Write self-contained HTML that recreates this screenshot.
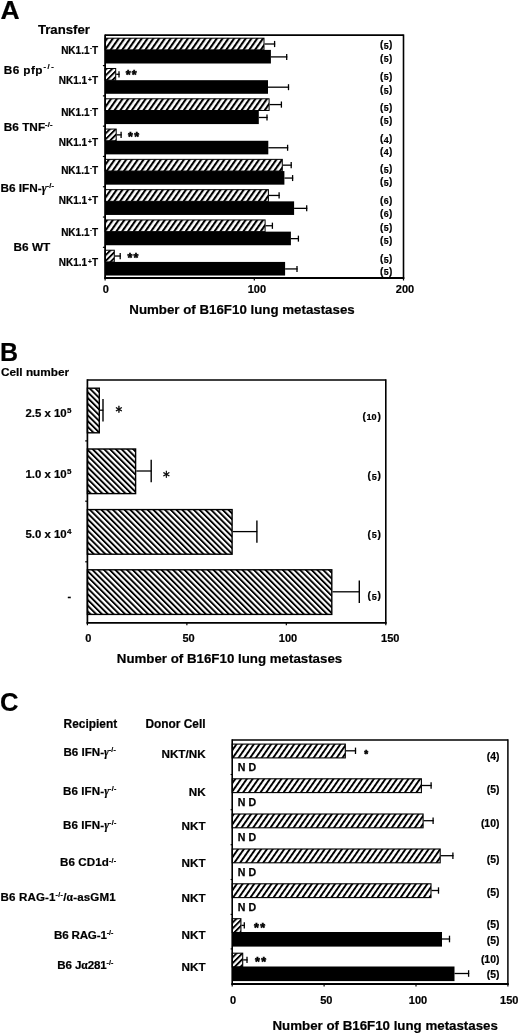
<!DOCTYPE html>
<html><head><meta charset="utf-8"><title>Figure</title>
<style>html,body{margin:0;padding:0;background:#fff;}svg{display:block;filter:blur(0.35px);}
text{font-family:"Liberation Sans", Arial, sans-serif;font-weight:bold;fill:#000;}</style></head>
<body><svg width="520" height="1034" viewBox="0 0 520 1034">
<rect width="520" height="1034" fill="#fff"/>
<defs>
<pattern id="hA" patternUnits="userSpaceOnUse" width="4.73" height="20" patternTransform="rotate(35)">
<rect x="0" y="0" width="2.1" height="20" fill="#000"/></pattern>
<pattern id="hC" patternUnits="userSpaceOnUse" width="4.73" height="20" patternTransform="rotate(35)">
<rect x="0" y="0" width="1.95" height="20" fill="#000"/></pattern>
<pattern id="hS" patternUnits="userSpaceOnUse" width="4.1" height="20" patternTransform="rotate(45)">
<rect x="0" y="0" width="1.9" height="20" fill="#000"/></pattern>
<pattern id="hB" patternUnits="userSpaceOnUse" width="4.08" height="20" patternTransform="rotate(-45)">
<rect x="0" y="0" width="1.9" height="20" fill="#000"/></pattern>
</defs>
<text x="0.3" y="18.8" font-size="25" text-anchor="start" transform="translate(0.3,0) scale(1.06,1)" stroke="#000" stroke-width="0.2">A</text>
<text x="37.9" y="34.1" font-size="13.2" text-anchor="start"  stroke="#000" stroke-width="0.2">Transfer</text>
<text x="3.8" y="74.0" font-size="11.8" text-anchor="start"  stroke="#000" stroke-width="0.2"><tspan letter-spacing="0.4">B6 pfp</tspan><tspan font-size="7.5" dy="-4.7" letter-spacing="1.6" dx="0.5">-/-</tspan></text>
<text x="3.8" y="130.5" font-size="11.8" text-anchor="start"  stroke="#000" stroke-width="0.2">B6 TNF<tspan font-size="7.5" dy="-3.7" letter-spacing="0.1">-/-</tspan></text>
<text x="0.4" y="192.4" font-size="11.8" text-anchor="start"  stroke="#000" stroke-width="0.2">B6 IFN-<tspan style="font-family:'Liberation Serif';font-style:italic;font-weight:bold">&#947;</tspan><tspan font-size="7.5" dy="-4.0" letter-spacing="0.2">-/-</tspan></text>
<text x="13.6" y="250.7" font-size="11.8" text-anchor="start"  stroke="#000" stroke-width="0.2">B6 WT</text>
<text x="98.1" y="54.1" font-size="10" text-anchor="end"  stroke="#000" stroke-width="0.2">NK1.1<tspan font-size="6" dy="-4.0" dx="0.5">-</tspan><tspan dy="4.0">T</tspan></text>
<text x="98.1" y="84.1" font-size="10" text-anchor="end"  stroke="#000" stroke-width="0.2">NK1.1<tspan font-size="6.5" dy="-1.8" dx="0.8">+</tspan><tspan dy="1.8" dx="0.3">T</tspan></text>
<text x="98.1" y="115.9" font-size="10" text-anchor="end"  stroke="#000" stroke-width="0.2">NK1.1<tspan font-size="6" dy="-4.0" dx="0.5">-</tspan><tspan dy="4.0">T</tspan></text>
<text x="98.1" y="146" font-size="10" text-anchor="end"  stroke="#000" stroke-width="0.2">NK1.1<tspan font-size="6.5" dy="-1.8" dx="0.8">+</tspan><tspan dy="1.8" dx="0.3">T</tspan></text>
<text x="98.1" y="173.6" font-size="10" text-anchor="end"  stroke="#000" stroke-width="0.2">NK1.1<tspan font-size="6" dy="-4.0" dx="0.5">-</tspan><tspan dy="4.0">T</tspan></text>
<text x="98.1" y="203.8" font-size="10" text-anchor="end"  stroke="#000" stroke-width="0.2">NK1.1<tspan font-size="6.5" dy="-1.8" dx="0.8">+</tspan><tspan dy="1.8" dx="0.3">T</tspan></text>
<text x="98.1" y="235.6" font-size="10" text-anchor="end"  stroke="#000" stroke-width="0.2">NK1.1<tspan font-size="6" dy="-4.0" dx="0.5">-</tspan><tspan dy="4.0">T</tspan></text>
<text x="98.1" y="266" font-size="10" text-anchor="end"  stroke="#000" stroke-width="0.2">NK1.1<tspan font-size="6.5" dy="-1.8" dx="0.8">+</tspan><tspan dy="1.8" dx="0.3">T</tspan></text>
<rect x="105.10" y="49.90" width="165.80" height="13.60" fill="#000"/>
<rect x="105.10" y="38.20" width="158.90" height="11.70" fill="url(#hA)" stroke="#000" stroke-width="1.0"/>
<line x1="264.50" y1="44.00" x2="275.20" y2="44.00" stroke="#000" stroke-width="1.3"/>
<line x1="274.60" y1="40.90" x2="274.60" y2="47.10" stroke="#000" stroke-width="1.3"/>
<line x1="270.90" y1="56.90" x2="287.30" y2="56.90" stroke="#000" stroke-width="1.3"/>
<line x1="286.70" y1="53.90" x2="286.70" y2="59.90" stroke="#000" stroke-width="1.3"/>
<rect x="105.10" y="80.19" width="162.90" height="13.60" fill="#000"/>
<rect x="105.10" y="68.49" width="10.60" height="11.70" fill="url(#hS)" stroke="#000" stroke-width="1.0"/>
<line x1="116.20" y1="74.29" x2="119.60" y2="74.29" stroke="#000" stroke-width="1.3"/>
<line x1="119.00" y1="71.19" x2="119.00" y2="77.39" stroke="#000" stroke-width="1.3"/>
<line x1="268.00" y1="87.19" x2="289.10" y2="87.19" stroke="#000" stroke-width="1.3"/>
<line x1="288.50" y1="84.19" x2="288.50" y2="90.19" stroke="#000" stroke-width="1.3"/>
<rect x="105.10" y="110.48" width="153.70" height="13.60" fill="#000"/>
<rect x="105.10" y="98.78" width="164.00" height="11.70" fill="url(#hA)" stroke="#000" stroke-width="1.0"/>
<line x1="269.60" y1="104.58" x2="282.00" y2="104.58" stroke="#000" stroke-width="1.3"/>
<line x1="281.40" y1="101.48" x2="281.40" y2="107.68" stroke="#000" stroke-width="1.3"/>
<line x1="258.80" y1="117.48" x2="267.60" y2="117.48" stroke="#000" stroke-width="1.3"/>
<line x1="267.00" y1="114.48" x2="267.00" y2="120.48" stroke="#000" stroke-width="1.3"/>
<rect x="105.10" y="140.77" width="163.20" height="13.60" fill="#000"/>
<rect x="105.10" y="129.07" width="11.10" height="11.70" fill="url(#hS)" stroke="#000" stroke-width="1.0"/>
<line x1="116.70" y1="134.87" x2="121.70" y2="134.87" stroke="#000" stroke-width="1.3"/>
<line x1="121.10" y1="131.77" x2="121.10" y2="137.97" stroke="#000" stroke-width="1.3"/>
<line x1="268.30" y1="147.77" x2="288.20" y2="147.77" stroke="#000" stroke-width="1.3"/>
<line x1="287.60" y1="144.77" x2="287.60" y2="150.77" stroke="#000" stroke-width="1.3"/>
<rect x="105.10" y="171.06" width="179.30" height="13.60" fill="#000"/>
<rect x="105.10" y="159.36" width="177.20" height="11.70" fill="url(#hA)" stroke="#000" stroke-width="1.0"/>
<line x1="282.80" y1="165.16" x2="291.80" y2="165.16" stroke="#000" stroke-width="1.3"/>
<line x1="291.20" y1="162.06" x2="291.20" y2="168.26" stroke="#000" stroke-width="1.3"/>
<line x1="284.40" y1="178.06" x2="293.20" y2="178.06" stroke="#000" stroke-width="1.3"/>
<line x1="292.60" y1="175.06" x2="292.60" y2="181.06" stroke="#000" stroke-width="1.3"/>
<rect x="105.10" y="201.35" width="189.00" height="13.60" fill="#000"/>
<rect x="105.10" y="189.65" width="163.30" height="11.70" fill="url(#hA)" stroke="#000" stroke-width="1.0"/>
<line x1="268.90" y1="195.45" x2="279.70" y2="195.45" stroke="#000" stroke-width="1.3"/>
<line x1="279.10" y1="192.35" x2="279.10" y2="198.55" stroke="#000" stroke-width="1.3"/>
<line x1="294.10" y1="208.35" x2="307.30" y2="208.35" stroke="#000" stroke-width="1.3"/>
<line x1="306.70" y1="205.35" x2="306.70" y2="211.35" stroke="#000" stroke-width="1.3"/>
<rect x="105.10" y="231.64" width="185.80" height="13.60" fill="#000"/>
<rect x="105.10" y="219.94" width="160.00" height="11.70" fill="url(#hA)" stroke="#000" stroke-width="1.0"/>
<line x1="265.60" y1="225.74" x2="273.00" y2="225.74" stroke="#000" stroke-width="1.3"/>
<line x1="272.40" y1="222.64" x2="272.40" y2="228.84" stroke="#000" stroke-width="1.3"/>
<line x1="290.90" y1="238.64" x2="299.00" y2="238.64" stroke="#000" stroke-width="1.3"/>
<line x1="298.40" y1="235.64" x2="298.40" y2="241.64" stroke="#000" stroke-width="1.3"/>
<rect x="105.10" y="261.93" width="180.00" height="13.60" fill="#000"/>
<rect x="105.10" y="250.23" width="9.20" height="11.70" fill="url(#hS)" stroke="#000" stroke-width="1.0"/>
<line x1="114.80" y1="256.03" x2="120.80" y2="256.03" stroke="#000" stroke-width="1.3"/>
<line x1="120.20" y1="252.93" x2="120.20" y2="259.13" stroke="#000" stroke-width="1.3"/>
<line x1="285.10" y1="268.93" x2="297.60" y2="268.93" stroke="#000" stroke-width="1.3"/>
<line x1="297.00" y1="265.93" x2="297.00" y2="271.93" stroke="#000" stroke-width="1.3"/>
<line x1="105.10" y1="35.20" x2="403.50" y2="35.20" stroke="#000" stroke-width="1.7"/>
<line x1="403.50" y1="34.40" x2="403.50" y2="278.80" stroke="#000" stroke-width="1.6"/>
<line x1="105.10" y1="34.40" x2="105.10" y2="278.80" stroke="#000" stroke-width="1.8"/>
<line x1="104.30" y1="278.00" x2="404.30" y2="278.00" stroke="#000" stroke-width="2.0"/>
<line x1="102.90" y1="65.59" x2="105.10" y2="65.59" stroke="#000" stroke-width="1.2"/>
<line x1="102.90" y1="95.88" x2="105.10" y2="95.88" stroke="#000" stroke-width="1.2"/>
<line x1="102.90" y1="126.17" x2="105.10" y2="126.17" stroke="#000" stroke-width="1.2"/>
<line x1="102.90" y1="156.46" x2="105.10" y2="156.46" stroke="#000" stroke-width="1.2"/>
<line x1="102.90" y1="186.75" x2="105.10" y2="186.75" stroke="#000" stroke-width="1.2"/>
<line x1="102.90" y1="217.04" x2="105.10" y2="217.04" stroke="#000" stroke-width="1.2"/>
<line x1="102.90" y1="247.33" x2="105.10" y2="247.33" stroke="#000" stroke-width="1.2"/>
<line x1="105.10" y1="278.00" x2="105.10" y2="280.50" stroke="#000" stroke-width="1.2"/>
<line x1="254.30" y1="278.00" x2="254.30" y2="280.50" stroke="#000" stroke-width="1.2"/>
<line x1="403.50" y1="278.00" x2="403.50" y2="280.50" stroke="#000" stroke-width="1.2"/>
<text x="386.1" y="48.300000000000004" font-size="10" text-anchor="middle"  stroke="#000" stroke-width="0.2">(<tspan font-size="8.9" dx="0.35" dy="0.5">5</tspan><tspan dx="0.35" dy="-0.5">)</tspan></text>
<text x="386.1" y="61.5" font-size="10" text-anchor="middle"  stroke="#000" stroke-width="0.2">(<tspan font-size="8.9" dx="0.35" dy="0.5">5</tspan><tspan dx="0.35" dy="-0.5">)</tspan></text>
<text x="386.1" y="79.8" font-size="10" text-anchor="middle"  stroke="#000" stroke-width="0.2">(<tspan font-size="8.9" dx="0.35" dy="0.5">5</tspan><tspan dx="0.35" dy="-0.5">)</tspan></text>
<text x="386.1" y="93.0" font-size="10" text-anchor="middle"  stroke="#000" stroke-width="0.2">(<tspan font-size="8.9" dx="0.35" dy="0.5">5</tspan><tspan dx="0.35" dy="-0.5">)</tspan></text>
<text x="386.1" y="110.6" font-size="10" text-anchor="middle"  stroke="#000" stroke-width="0.2">(<tspan font-size="8.9" dx="0.35" dy="0.5">5</tspan><tspan dx="0.35" dy="-0.5">)</tspan></text>
<text x="386.1" y="123.8" font-size="10" text-anchor="middle"  stroke="#000" stroke-width="0.2">(<tspan font-size="8.9" dx="0.35" dy="0.5">5</tspan><tspan dx="0.35" dy="-0.5">)</tspan></text>
<text x="386.1" y="142.0" font-size="10" text-anchor="middle"  stroke="#000" stroke-width="0.2">(<tspan font-size="8.9" dx="0.35" dy="0.5">4</tspan><tspan dx="0.35" dy="-0.5">)</tspan></text>
<text x="386.1" y="154.6" font-size="10" text-anchor="middle"  stroke="#000" stroke-width="0.2">(<tspan font-size="8.9" dx="0.35" dy="0.5">4</tspan><tspan dx="0.35" dy="-0.5">)</tspan></text>
<text x="386.1" y="172.1" font-size="10" text-anchor="middle"  stroke="#000" stroke-width="0.2">(<tspan font-size="8.9" dx="0.35" dy="0.5">5</tspan><tspan dx="0.35" dy="-0.5">)</tspan></text>
<text x="386.1" y="185.29999999999998" font-size="10" text-anchor="middle"  stroke="#000" stroke-width="0.2">(<tspan font-size="8.9" dx="0.35" dy="0.5">5</tspan><tspan dx="0.35" dy="-0.5">)</tspan></text>
<text x="386.1" y="203.5" font-size="10" text-anchor="middle"  stroke="#000" stroke-width="0.2">(<tspan font-size="8.9" dx="0.35" dy="0.5">6</tspan><tspan dx="0.35" dy="-0.5">)</tspan></text>
<text x="386.1" y="216.7" font-size="10" text-anchor="middle"  stroke="#000" stroke-width="0.2">(<tspan font-size="8.9" dx="0.35" dy="0.5">6</tspan><tspan dx="0.35" dy="-0.5">)</tspan></text>
<text x="386.1" y="230.6" font-size="10" text-anchor="middle"  stroke="#000" stroke-width="0.2">(<tspan font-size="8.9" dx="0.35" dy="0.5">5</tspan><tspan dx="0.35" dy="-0.5">)</tspan></text>
<text x="386.1" y="243.79999999999998" font-size="10" text-anchor="middle"  stroke="#000" stroke-width="0.2">(<tspan font-size="8.9" dx="0.35" dy="0.5">5</tspan><tspan dx="0.35" dy="-0.5">)</tspan></text>
<text x="386.1" y="262.0" font-size="10" text-anchor="middle"  stroke="#000" stroke-width="0.2">(<tspan font-size="8.9" dx="0.35" dy="0.5">5</tspan><tspan dx="0.35" dy="-0.5">)</tspan></text>
<text x="386.1" y="274.6" font-size="10" text-anchor="middle"  stroke="#000" stroke-width="0.2">(<tspan font-size="8.9" dx="0.35" dy="0.5">5</tspan><tspan dx="0.35" dy="-0.5">)</tspan></text>
<text x="125.7" y="78.8" font-size="12.5" text-anchor="start" letter-spacing="1.3" stroke="#000" stroke-width="0.6">**</text>
<text x="128.0" y="140.70000000000002" font-size="12.5" text-anchor="start" letter-spacing="1.3" stroke="#000" stroke-width="0.6">**</text>
<text x="127.4" y="261.9" font-size="12.5" text-anchor="start" letter-spacing="1.3" stroke="#000" stroke-width="0.6">**</text>
<text x="105.8" y="293.3" font-size="11" text-anchor="middle"  stroke="#000" stroke-width="0.2">0</text>
<text x="256.9" y="293.3" font-size="11" text-anchor="middle"  stroke="#000" stroke-width="0.2">100</text>
<text x="405.0" y="293.3" font-size="11" text-anchor="middle"  stroke="#000" stroke-width="0.2">200</text>
<text x="242.0" y="313.9" font-size="13.3" text-anchor="middle"  stroke="#000" stroke-width="0.2">Number of B16F10 lung metastases</text>
<text x="0.0" y="360.8" font-size="25" text-anchor="start"  stroke="#000" stroke-width="0.2">B</text>
<text x="1.0" y="375.8" font-size="11.8" text-anchor="start"  stroke="#000" stroke-width="0.2">Cell number</text>
<rect x="87.40" y="388.20" width="11.90" height="44.60" fill="url(#hB)" stroke="#000" stroke-width="1.4"/>
<line x1="100.00" y1="410.20" x2="103.30" y2="410.20" stroke="#000" stroke-width="1.3"/>
<line x1="103.00" y1="399.00" x2="103.00" y2="421.40" stroke="#000" stroke-width="1.4"/>
<rect x="87.40" y="449.00" width="48.20" height="44.60" fill="url(#hB)" stroke="#000" stroke-width="1.4"/>
<line x1="136.30" y1="471.00" x2="151.50" y2="471.00" stroke="#000" stroke-width="1.3"/>
<line x1="151.20" y1="459.80" x2="151.20" y2="482.20" stroke="#000" stroke-width="1.4"/>
<rect x="87.40" y="509.60" width="144.70" height="44.60" fill="url(#hB)" stroke="#000" stroke-width="1.4"/>
<line x1="232.80" y1="531.60" x2="257.20" y2="531.60" stroke="#000" stroke-width="1.3"/>
<line x1="256.90" y1="520.40" x2="256.90" y2="542.80" stroke="#000" stroke-width="1.4"/>
<rect x="87.40" y="569.80" width="244.40" height="44.60" fill="url(#hB)" stroke="#000" stroke-width="1.4"/>
<line x1="332.50" y1="591.80" x2="359.60" y2="591.80" stroke="#000" stroke-width="1.3"/>
<line x1="359.30" y1="580.60" x2="359.30" y2="603.00" stroke="#000" stroke-width="1.4"/>
<line x1="87.40" y1="380.00" x2="385.80" y2="380.00" stroke="#000" stroke-width="1.7"/>
<line x1="385.80" y1="379.20" x2="385.80" y2="623.60" stroke="#000" stroke-width="1.6"/>
<line x1="87.40" y1="379.20" x2="87.40" y2="623.60" stroke="#000" stroke-width="1.7"/>
<line x1="86.60" y1="622.80" x2="386.60" y2="622.80" stroke="#000" stroke-width="1.8"/>
<line x1="85.20" y1="440.90" x2="87.40" y2="440.90" stroke="#000" stroke-width="1.2"/>
<line x1="85.20" y1="501.20" x2="87.40" y2="501.20" stroke="#000" stroke-width="1.2"/>
<line x1="85.20" y1="561.80" x2="87.40" y2="561.80" stroke="#000" stroke-width="1.2"/>
<line x1="87.40" y1="622.80" x2="87.40" y2="625.30" stroke="#000" stroke-width="1.2"/>
<line x1="186.87" y1="622.80" x2="186.87" y2="625.30" stroke="#000" stroke-width="1.2"/>
<line x1="286.33" y1="622.80" x2="286.33" y2="625.30" stroke="#000" stroke-width="1.2"/>
<line x1="385.80" y1="622.80" x2="385.80" y2="625.30" stroke="#000" stroke-width="1.2"/>
<text x="118.75" y="416.3" font-size="13.5" text-anchor="middle" style="font-family:'DejaVu Sans';font-weight:normal" stroke="#000" stroke-width="0.45">*</text>
<text x="166.3" y="481.1" font-size="13.5" text-anchor="middle" style="font-family:'DejaVu Sans';font-weight:normal" stroke="#000" stroke-width="0.45">*</text>
<text x="25.4" y="416.7" font-size="11.4" text-anchor="start"  stroke="#000" stroke-width="0.2">2.5 x 10<tspan font-size="8" dy="-3.9" dx="0.4">5</tspan></text>
<text x="25.4" y="477.9" font-size="11.4" text-anchor="start"  stroke="#000" stroke-width="0.2">1.0 x 10<tspan font-size="8" dy="-3.9" dx="0.4">5</tspan></text>
<text x="25.4" y="537.8" font-size="11.4" text-anchor="start"  stroke="#000" stroke-width="0.2">5.0 x 10<tspan font-size="8" dy="-3.9" dx="0.4">4</tspan></text>
<text x="69.3" y="599.8" font-size="11" text-anchor="middle"  stroke="#000" stroke-width="0.2">-</text>
<text x="380.8" y="419.8" font-size="10.2" text-anchor="end"  stroke="#000" stroke-width="0.2">(<tspan font-size="9.1" dx="0.7" dy="0.4">10</tspan><tspan dx="0.7" dy="-0.4">)</tspan></text>
<text x="380.8" y="479.3" font-size="10.2" text-anchor="end"  stroke="#000" stroke-width="0.2">(<tspan font-size="9.1" dx="0.7" dy="0.4">5</tspan><tspan dx="0.7" dy="-0.4">)</tspan></text>
<text x="380.8" y="537.5" font-size="10.2" text-anchor="end"  stroke="#000" stroke-width="0.2">(<tspan font-size="9.1" dx="0.7" dy="0.4">5</tspan><tspan dx="0.7" dy="-0.4">)</tspan></text>
<text x="380.8" y="599.3000000000001" font-size="10.2" text-anchor="end"  stroke="#000" stroke-width="0.2">(<tspan font-size="9.1" dx="0.7" dy="0.4">5</tspan><tspan dx="0.7" dy="-0.4">)</tspan></text>
<text x="88.4" y="642.0" font-size="11" text-anchor="middle"  stroke="#000" stroke-width="0.2">0</text>
<text x="188.5" y="642.0" font-size="11" text-anchor="middle"  stroke="#000" stroke-width="0.2">50</text>
<text x="288.0" y="642.0" font-size="11" text-anchor="middle"  stroke="#000" stroke-width="0.2">100</text>
<text x="390.2" y="642.0" font-size="11" text-anchor="middle"  stroke="#000" stroke-width="0.2">150</text>
<text x="229.5" y="662.9" font-size="13.3" text-anchor="middle"  stroke="#000" stroke-width="0.2">Number of B16F10 lung metastases</text>
<text x="0.0" y="710.5" font-size="25.6" text-anchor="start"  stroke="#000" stroke-width="0.2">C</text>
<text x="63.6" y="728" font-size="11.9" text-anchor="start"  stroke="#000" stroke-width="0.2">Recipient</text>
<text x="205.6" y="728" font-size="11.9" text-anchor="end"  stroke="#000" stroke-width="0.2">Donor Cell</text>
<text x="63.45" y="756.2" font-size="11.6" text-anchor="start" textLength="52.6" lengthAdjust="spacing" stroke="#000" stroke-width="0.2">B6 IFN-<tspan style="font-family:'Liberation Serif';font-style:italic;font-weight:bold">&#947;</tspan><tspan font-size="7" dy="-3.8" letter-spacing="0.2">-/-</tspan></text>
<text x="205.6" y="757.6" font-size="11.7" text-anchor="end"  stroke="#000" stroke-width="0.2">NKT/NK</text>
<text x="62.95" y="795.1" font-size="11.6" text-anchor="start" textLength="53.5" lengthAdjust="spacing" stroke="#000" stroke-width="0.2">B6 IFN-<tspan style="font-family:'Liberation Serif';font-style:italic;font-weight:bold">&#947;</tspan><tspan font-size="7" dy="-3.8" letter-spacing="0.2">-/-</tspan></text>
<text x="205.6" y="796.3" font-size="11.7" text-anchor="end"  stroke="#000" stroke-width="0.2">NK</text>
<text x="62.95" y="829.2" font-size="11.6" text-anchor="start" textLength="53.5" lengthAdjust="spacing" stroke="#000" stroke-width="0.2">B6 IFN-<tspan style="font-family:'Liberation Serif';font-style:italic;font-weight:bold">&#947;</tspan><tspan font-size="7" dy="-3.8" letter-spacing="0.2">-/-</tspan></text>
<text x="205.6" y="830.4" font-size="11.7" text-anchor="end"  stroke="#000" stroke-width="0.2">NKT</text>
<text x="60.05" y="866.4" font-size="11.6" text-anchor="start" textLength="56.2" lengthAdjust="spacing" stroke="#000" stroke-width="0.2">B6 CD1d<tspan font-size="7" dy="-3.8" letter-spacing="0.2">-/-</tspan></text>
<text x="205.6" y="866.7" font-size="11.7" text-anchor="end"  stroke="#000" stroke-width="0.2">NKT</text>
<text x="0.44999999999999996" y="901.2" font-size="11.6" text-anchor="start" textLength="115.3" lengthAdjust="spacing" stroke="#000" stroke-width="0.2">B6 RAG-1<tspan font-size="7" dy="-3.8" letter-spacing="0.2">-/-</tspan><tspan dy="3.8">/</tspan><tspan style="font-family:'Liberation Serif';font-style:normal;font-weight:bold">&#945;</tspan>-asGM1</text>
<text x="205.6" y="902.3" font-size="11.7" text-anchor="end"  stroke="#000" stroke-width="0.2">NKT</text>
<text x="53.95" y="938.7" font-size="11.6" text-anchor="start" textLength="59.6" lengthAdjust="spacing" stroke="#000" stroke-width="0.2">B6 RAG-1<tspan font-size="7" dy="-3.8" letter-spacing="0.2">-/-</tspan></text>
<text x="205.6" y="938.8" font-size="11.7" text-anchor="end"  stroke="#000" stroke-width="0.2">NKT</text>
<text x="57.35" y="968.7" font-size="11.6" text-anchor="start" textLength="56.2" lengthAdjust="spacing" stroke="#000" stroke-width="0.2">B6 J<tspan style="font-family:'Liberation Serif';font-style:normal;font-weight:bold">&#945;</tspan>281<tspan font-size="7" dy="-3.8" letter-spacing="0.2">-/-</tspan></text>
<text x="205.6" y="970.6" font-size="11.7" text-anchor="end"  stroke="#000" stroke-width="0.2">NKT</text>
<rect x="232.20" y="744.10" width="113.10" height="13.80" fill="url(#hC)" stroke="#000" stroke-width="1.1"/>
<line x1="345.80" y1="750.80" x2="356.10" y2="750.80" stroke="#000" stroke-width="1.3"/>
<line x1="355.50" y1="747.60" x2="355.50" y2="754.00" stroke="#000" stroke-width="1.3"/>
<text x="237.8" y="770.8000000000001" font-size="10.6" text-anchor="start" stroke="#000" stroke-width="0.25">N D</text>
<rect x="232.20" y="778.80" width="189.20" height="13.80" fill="url(#hC)" stroke="#000" stroke-width="1.1"/>
<line x1="421.90" y1="785.50" x2="431.70" y2="785.50" stroke="#000" stroke-width="1.3"/>
<line x1="431.10" y1="782.30" x2="431.10" y2="788.70" stroke="#000" stroke-width="1.3"/>
<text x="237.8" y="805.5" font-size="10.6" text-anchor="start" stroke="#000" stroke-width="0.25">N D</text>
<rect x="232.20" y="814.00" width="190.90" height="13.80" fill="url(#hC)" stroke="#000" stroke-width="1.1"/>
<line x1="423.60" y1="820.70" x2="433.70" y2="820.70" stroke="#000" stroke-width="1.3"/>
<line x1="433.10" y1="817.50" x2="433.10" y2="823.90" stroke="#000" stroke-width="1.3"/>
<text x="237.8" y="840.7" font-size="10.6" text-anchor="start" stroke="#000" stroke-width="0.25">N D</text>
<rect x="232.20" y="849.00" width="208.00" height="13.80" fill="url(#hC)" stroke="#000" stroke-width="1.1"/>
<line x1="440.70" y1="855.70" x2="453.50" y2="855.70" stroke="#000" stroke-width="1.3"/>
<line x1="452.90" y1="852.50" x2="452.90" y2="858.90" stroke="#000" stroke-width="1.3"/>
<text x="237.8" y="875.7" font-size="10.6" text-anchor="start" stroke="#000" stroke-width="0.25">N D</text>
<rect x="232.20" y="883.80" width="198.80" height="13.80" fill="url(#hC)" stroke="#000" stroke-width="1.1"/>
<line x1="431.50" y1="890.50" x2="439.10" y2="890.50" stroke="#000" stroke-width="1.3"/>
<line x1="438.50" y1="887.30" x2="438.50" y2="893.70" stroke="#000" stroke-width="1.3"/>
<text x="237.8" y="910.5" font-size="10.6" text-anchor="start" stroke="#000" stroke-width="0.25">N D</text>
<rect x="232.20" y="918.70" width="8.70" height="13.80" fill="url(#hS)" stroke="#000" stroke-width="1.1"/>
<line x1="241.40" y1="925.40" x2="244.90" y2="925.40" stroke="#000" stroke-width="1.3"/>
<line x1="244.30" y1="922.20" x2="244.30" y2="928.60" stroke="#000" stroke-width="1.3"/>
<rect x="232.20" y="953.20" width="10.50" height="13.80" fill="url(#hS)" stroke="#000" stroke-width="1.1"/>
<line x1="243.20" y1="959.90" x2="247.60" y2="959.90" stroke="#000" stroke-width="1.3"/>
<line x1="247.00" y1="956.70" x2="247.00" y2="963.10" stroke="#000" stroke-width="1.3"/>
<rect x="232.20" y="932.00" width="209.80" height="14.60" fill="#000"/>
<line x1="442.00" y1="939.00" x2="450.10" y2="939.00" stroke="#000" stroke-width="1.3"/>
<line x1="449.50" y1="935.70" x2="449.50" y2="942.30" stroke="#000" stroke-width="1.3"/>
<rect x="232.20" y="966.50" width="222.30" height="14.60" fill="#000"/>
<line x1="454.50" y1="973.50" x2="469.20" y2="973.50" stroke="#000" stroke-width="1.3"/>
<line x1="468.60" y1="970.20" x2="468.60" y2="976.80" stroke="#000" stroke-width="1.3"/>
<line x1="232.20" y1="740.00" x2="507.90" y2="740.00" stroke="#000" stroke-width="1.6"/>
<line x1="507.90" y1="739.20" x2="507.90" y2="984.80" stroke="#000" stroke-width="1.5"/>
<line x1="232.20" y1="739.20" x2="232.20" y2="984.80" stroke="#000" stroke-width="1.6"/>
<line x1="231.40" y1="984.00" x2="508.70" y2="984.00" stroke="#000" stroke-width="2.0"/>
<line x1="230.60" y1="774.50" x2="232.20" y2="774.50" stroke="#000" stroke-width="1.1"/>
<line x1="230.60" y1="809.70" x2="232.20" y2="809.70" stroke="#000" stroke-width="1.1"/>
<line x1="230.60" y1="844.70" x2="232.20" y2="844.70" stroke="#000" stroke-width="1.1"/>
<line x1="230.60" y1="879.50" x2="232.20" y2="879.50" stroke="#000" stroke-width="1.1"/>
<line x1="230.60" y1="914.40" x2="232.20" y2="914.40" stroke="#000" stroke-width="1.1"/>
<line x1="230.60" y1="948.90" x2="232.20" y2="948.90" stroke="#000" stroke-width="1.1"/>
<line x1="232.20" y1="984.00" x2="232.20" y2="986.50" stroke="#000" stroke-width="1.2"/>
<line x1="324.10" y1="984.00" x2="324.10" y2="986.50" stroke="#000" stroke-width="1.2"/>
<line x1="416.00" y1="984.00" x2="416.00" y2="986.50" stroke="#000" stroke-width="1.2"/>
<line x1="507.90" y1="984.00" x2="507.90" y2="986.50" stroke="#000" stroke-width="1.2"/>
<text x="366.2" y="758.3" font-size="10" text-anchor="middle" stroke="#000" stroke-width="0.6">*</text>
<text x="254.0" y="931.5" font-size="12.5" text-anchor="start" letter-spacing="1.3" stroke="#000" stroke-width="0.6">**</text>
<text x="255.0" y="966.1999999999999" font-size="12.5" text-anchor="start" letter-spacing="1.3" stroke="#000" stroke-width="0.6">**</text>
<text x="499.4" y="759.6" font-size="10.4" text-anchor="end"  stroke="#000" stroke-width="0.2">(4)</text>
<text x="499.4" y="792.7" font-size="10.4" text-anchor="end"  stroke="#000" stroke-width="0.2">(5)</text>
<text x="499.4" y="826.9000000000001" font-size="10.4" text-anchor="end"  stroke="#000" stroke-width="0.2">(10)</text>
<text x="499.4" y="862.5" font-size="10.4" text-anchor="end"  stroke="#000" stroke-width="0.2">(5)</text>
<text x="499.4" y="895.7" font-size="10.4" text-anchor="end"  stroke="#000" stroke-width="0.2">(5)</text>
<text x="499.4" y="927.5" font-size="10.4" text-anchor="end"  stroke="#000" stroke-width="0.2">(5)</text>
<text x="499.4" y="944.4000000000001" font-size="10.4" text-anchor="end"  stroke="#000" stroke-width="0.2">(5)</text>
<text x="499.4" y="962.7" font-size="10.4" text-anchor="end"  stroke="#000" stroke-width="0.2">(10)</text>
<text x="499.4" y="977.6" font-size="10.4" text-anchor="end"  stroke="#000" stroke-width="0.2">(5)</text>
<text x="233.0" y="1003.6" font-size="11" text-anchor="middle"  stroke="#000" stroke-width="0.2">0</text>
<text x="326.3" y="1003.6" font-size="11" text-anchor="middle"  stroke="#000" stroke-width="0.2">50</text>
<text x="418.0" y="1003.6" font-size="11" text-anchor="middle"  stroke="#000" stroke-width="0.2">100</text>
<text x="509.2" y="1003.6" font-size="11" text-anchor="middle"  stroke="#000" stroke-width="0.2">150</text>
<text x="385.2" y="1029.6" font-size="13.3" text-anchor="middle"  stroke="#000" stroke-width="0.2">Number of B16F10 lung metastases</text>
</svg></body></html>
